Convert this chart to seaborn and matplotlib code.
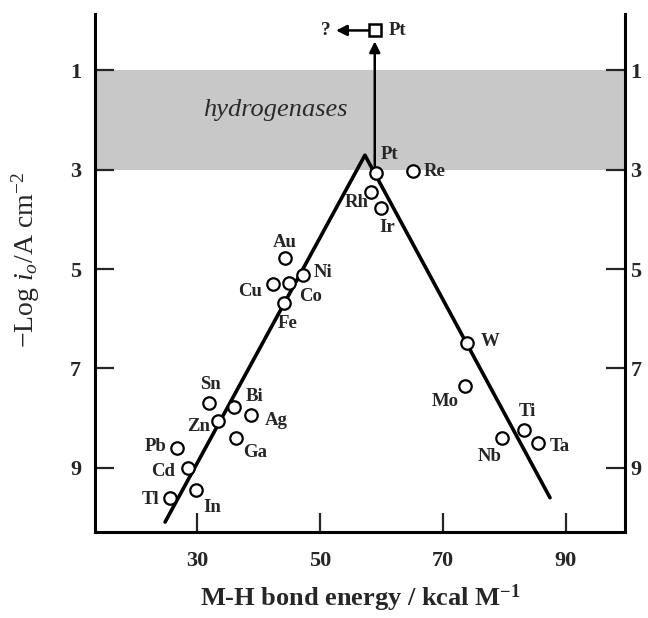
import matplotlib
matplotlib.use("Agg")
import matplotlib.pyplot as plt
import seaborn as sns
import pandas as pd

# ---------------- data ----------------
metals = ["Pt", "Re", "Rh", "Ir", "Au", "Ni", "Co", "Cu", "Fe",
          "Sn", "Bi", "Ag", "Zn", "Ga", "Pb", "Cd", "Tl", "In",
          "W", "Mo", "Ti", "Nb", "Ta"]
bond_energy = [59.1, 65.1, 58.3, 59.9, 44.3, 47.2, 45.0, 42.4, 44.1,
               32.0, 36.0, 38.8, 33.4, 36.3, 26.7, 28.5, 25.6, 29.8,
               73.9, 73.6, 83.2, 79.6, 85.4]
neg_log_i0 = [3.07, 3.03, 3.45, 3.77, 4.78, 5.12, 5.28, 5.30, 5.68,
              7.69, 7.77, 7.93, 8.05, 8.40, 8.60, 9.00, 9.60, 9.44,
              6.49, 7.35, 8.24, 8.40, 8.50]

# volcano trend lines (left branch end, apex, right branch end)
volcano_x = [24.8, 57.3, 87.4]
volcano_y = [10.09, 2.71, 9.60]

# hydrogenase band
band_low, band_high = 1, 3

# Pt (improved) marker
pt_top_x, pt_top_y = 58.9, 0.2

x_ticks = [30, 50, 70, 90]
y_ticks = [1, 3, 5, 7, 9]

# label offsets (layout), same order as metals
label_dx = [2.2, 3.6, -2.3, 1.0, 0.0, 3.3, 3.4, -3.8, 0.7,
            0.1, 3.4, 4.0, -3.2, 3.1, -3.5, -4.0, -3.2, 2.6,
            3.7, -3.3, 0.5, -2.0, 3.6]
label_dy = [-0.37, 0.0, 0.22, 0.39, -0.32, -0.06, 0.28, 0.16, 0.41,
            -0.36, -0.20, 0.11, 0.11, 0.30, -0.02, 0.08, 0.04, 0.36,
            -0.04, 0.32, -0.37, 0.38, 0.08]

df = pd.DataFrame({"metal": metals, "E": bond_energy, "logi": neg_log_i0})

# ---------------- style ----------------
sns.set_theme(style="white")
plt.rcParams["font.family"] = ["Liberation Serif", "DejaVu Serif"]
plt.rcParams["mathtext.fontset"] = "custom"
plt.rcParams["mathtext.rm"] = "Liberation Serif"
plt.rcParams["mathtext.it"] = "Liberation Serif:italic"
plt.rcParams["mathtext.bf"] = "Liberation Serif:bold"

fig = plt.figure(figsize=(6.48, 6.18), dpi=100)
ax = fig.add_axes([0.1466, 0.1392, 0.8179, 0.8381])

ax.axhspan(band_low, band_high, color="#c8c8c8", zorder=0, lw=0)
ax.text(42.8, 1.8, "hydrogenases", fontsize=19, style="italic",
        color="#2a2a2a", ha="center", va="center", zorder=1)

sns.lineplot(x=volcano_x, y=volcano_y, sort=False, estimator=None,
             color="black", lw=2.6, ax=ax, zorder=2)

sns.scatterplot(data=df, x="E", y="logi", marker="o", s=80,
                facecolor="white", edgecolor="black", linewidth=1.6,
                ax=ax, zorder=3)

for m, x, y, dx, dy in zip(metals, bond_energy, neg_log_i0, label_dx, label_dy):
    ax.text(x + dx, y + dy, m, fontsize=13.5, fontweight="bold",
            ha="center", va="center", zorder=4)

# vertical arrow from Pt to improved Pt
ax.annotate("", xy=(pt_top_x, pt_top_y + 0.22), xytext=(pt_top_x, 2.93),
            arrowprops=dict(arrowstyle="-|>", lw=1.8, color="black",
                            mutation_scale=16, shrinkA=0, shrinkB=0),
            zorder=3)
# horizontal arrow to "?"
ax.annotate("", xy=(52.6, pt_top_y), xytext=(pt_top_x - 0.6, pt_top_y),
            arrowprops=dict(arrowstyle="-|>", lw=1.8, color="black",
                            mutation_scale=16, shrinkA=0, shrinkB=0),
            zorder=3)
ax.plot([pt_top_x], [pt_top_y], marker="s", ms=8, mfc="white",
        mec="black", mew=1.8, zorder=5)
ax.text(51.0, pt_top_y, "?", fontsize=14, fontweight="bold",
        ha="center", va="center")
ax.text(61.2, pt_top_y, "Pt", fontsize=13.5, fontweight="bold",
        ha="left", va="center")

# axes
ax.set_xlim(13.4, 99.6)
ax.set_ylim(10.29, -0.13)
ax.set_xticks(x_ticks)
ax.set_yticks(y_ticks)
ax.set_xticklabels([str(t) for t in x_ticks], fontsize=16, fontweight="bold")
ax.set_yticklabels([str(t) for t in y_ticks], fontsize=16, fontweight="bold")
ax.tick_params(axis="x", direction="in", length=14, width=1.6, pad=14,
               bottom=True)
ax.tick_params(axis="y", direction="in", length=14, width=1.6, pad=10,
               left=True, right=False)

# right-hand axis with its own tick labels
sec = ax.secondary_yaxis("right")
sec.set_yticks(y_ticks)
sec.set_yticklabels([str(t) for t in y_ticks], fontsize=16, fontweight="bold")
sec.tick_params(axis="y", direction="in", length=14, width=1.6, pad=4)
sec.spines["right"].set_linewidth(2.2)
sec.spines["right"].set_color("black")

ax.spines["top"].set_visible(False)
ax.spines["right"].set_visible(False)
for s in ["left", "bottom"]:
    ax.spines[s].set_linewidth(2.2)
    ax.spines[s].set_color("black")

ax.set_xlabel(r"M-H bond energy / kcal M$^{\mathbf{-1}}$", fontsize=19,
              fontweight="bold", labelpad=8)
ax.set_ylabel(r"$-$Log $i_o$/A cm$^{-2}$", fontsize=20)
ax.yaxis.set_label_coords(-0.10, 0.525)

fig.savefig("out.png", dpi=100)
